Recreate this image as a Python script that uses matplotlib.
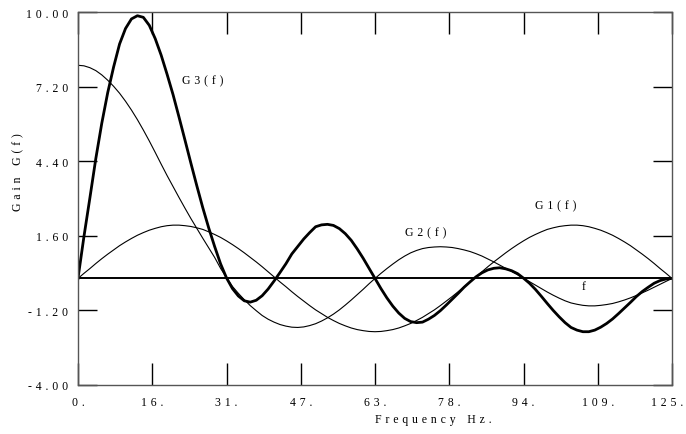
import numpy as np
import matplotlib
matplotlib.use("Agg")
import matplotlib.pyplot as plt
from matplotlib.transforms import ScaledTranslation

# frequency samples (Hz), values read every 1.25 Hz off the reference
freq = np.arange(0, 125.01, 1.25)

G1 = [0.00, 0.19, 0.37, 0.56, 0.74, 0.91, 1.07, 1.23, 1.37, 1.50,
      1.62, 1.72, 1.81, 1.88, 1.94, 1.98, 2.00, 2.00, 1.98, 1.95,
      1.90, 1.84, 1.75, 1.65, 1.54, 1.41, 1.27, 1.12, 0.96, 0.79,
      0.62, 0.44, 0.25, 0.06, -0.13, -0.31, -0.50, -0.68, -0.85, -1.02,
      -1.18, -1.32, -1.46, -1.58, -1.69, -1.78, -1.86, -1.92, -1.96, -1.99,
      -2.00, -1.99, -1.96, -1.92, -1.86, -1.78, -1.69, -1.58, -1.46, -1.32,
      -1.18, -1.02, -0.85, -0.68, -0.50, -0.31, -0.13, 0.06, 0.25, 0.44,
      0.62, 0.79, 0.96, 1.12, 1.27, 1.41, 1.54, 1.65, 1.75, 1.84,
      1.90, 1.95, 1.98, 2.00, 2.00, 1.98, 1.94, 1.88, 1.81, 1.72,
      1.62, 1.50, 1.37, 1.23, 1.07, 0.91, 0.74, 0.56, 0.37, 0.19,
      0.00]

G2 = [8.00, 7.98, 7.91, 7.80, 7.64, 7.44, 7.21, 6.95, 6.65, 6.32,
      5.96, 5.57, 5.16, 4.73, 4.29, 3.86, 3.45, 3.04, 2.64, 2.25,
      1.88, 1.51, 1.15, 0.79, 0.38, 0.03, -0.30, -0.56, -0.80, -1.02,
      -1.21, -1.39, -1.53, -1.64, -1.73, -1.79, -1.83, -1.84, -1.82, -1.77,
      -1.70, -1.60, -1.48, -1.34, -1.18, -1.00, -0.81, -0.61, -0.41, -0.20,
      0.00, 0.19, 0.37, 0.54, 0.70, 0.84, 0.96, 1.05, 1.12, 1.16,
      1.18, 1.19, 1.18, 1.16, 1.12, 1.07, 1.01, 0.93, 0.84, 0.73,
      0.62, 0.50, 0.38, 0.26, 0.14, 0.01, -0.12, -0.25, -0.38, -0.51,
      -0.63, -0.74, -0.84, -0.92, -0.97, -1.01, -1.03, -1.03, -1.01, -0.98,
      -0.94, -0.88, -0.81, -0.73, -0.64, -0.54, -0.44, -0.33, -0.22, -0.11,
      0.00]

G3 = [0.00, 1.57, 3.02, 4.50, 5.82, 6.97, 7.94, 8.80, 9.38, 9.74,
      9.86, 9.80, 9.50, 9.00, 8.38, 7.66, 6.90, 6.06, 5.20, 4.33,
      3.48, 2.66, 1.90, 1.20, 0.55, 0.02, -0.38, -0.66, -0.84, -0.89,
      -0.82, -0.65, -0.40, -0.10, 0.22, 0.55, 0.92, 1.20, 1.48, 1.72,
      1.94, 2.01, 2.03, 1.99, 1.87, 1.68, 1.43, 1.11, 0.76, 0.38,
      0.00, -0.38, -0.73, -1.04, -1.30, -1.50, -1.62, -1.66, -1.64, -1.53,
      -1.39, -1.21, -1.00, -0.78, -0.56, -0.33, -0.13, 0.06, 0.21, 0.32,
      0.38, 0.40, 0.36, 0.29, 0.18, 0.01, -0.18, -0.41, -0.67, -0.94,
      -1.20, -1.44, -1.66, -1.84, -1.94, -2.00, -2.00, -1.94, -1.83, -1.69,
      -1.52, -1.32, -1.11, -0.90, -0.68, -0.49, -0.33, -0.18, -0.08, -0.02,
      0.00]

xticks = [0, 15.625, 31.25, 46.875, 62.5, 78.125, 93.75, 109.375, 125]
xlabels = ["0.", "16.", "31.", "47.", "63.", "78.", "94.", "109.", "125."]
yticks = [-4.0, -1.2, 1.6, 4.4, 7.2, 10.0]
ylabels = ["-4.00", "-1.20", "1.60", "4.40", "7.20", "10.00"]

GAP = "\u2004"


def spaced(s):
    # the original labels are letter-spaced
    return GAP.join(s)


plt.rcParams["font.family"] = ["Liberation Serif", "DejaVu Serif"]

fig = plt.figure(figsize=(6.86, 4.35), dpi=100)
ax = fig.add_axes([78 / 686, 1 - 386 / 435, 594 / 686, 373 / 435])

ax.plot(freq, G1, color="black", lw=0.8)
ax.plot(freq, G2, color="black", lw=0.8)
ax.plot(freq, G3, color="black", lw=2.0)
ax.axhline(0, color="black", lw=1.4)

ax.set_xlim(0, 125)
ax.set_ylim(-4, 10)
ax.set_xticks(xticks)
ax.set_xticklabels([spaced(s) for s in xlabels])
ax.set_yticks(yticks)
ax.set_yticklabels([spaced(s) for s in ylabels])
ax.tick_params(axis="x", direction="in", length=16, width=1.0, pad=8,
               top=True, labelsize=8.5, colors="black")
ax.tick_params(axis="y", direction="in", length=14, width=1.0, pad=7,
               right=True, labelsize=8.5, colors="black")
for sp in ax.spines.values():
    sp.set_color("#555555")
    sp.set_linewidth(1.0)

# last x label sits against the right edge, nudge it in
last = ax.get_xticklabels()[-1]
last.set_transform(last.get_transform() + ScaledTranslation(-5 / 100, 0, fig.dpi_scale_trans))

# curve labels
ax.text(21.8, 7.43, spaced("G3(f)"), fontsize=8.5, ha="left", va="center")
ax.text(96.2, 2.73, spaced("G1(f)"), fontsize=8.5, ha="left", va="center")
ax.text(68.8, 1.75, spaced("G2(f)"), fontsize=8.5, ha="left", va="center")
ax.text(106.0, -0.30, "f", fontsize=8.5, ha="left", va="center")

fig.text(375 / 686, 1 - 420 / 435, spaced("Frequency") + GAP * 3 + spaced("Hz."),
         fontsize=8.5, ha="left", va="center")
fig.text(18 / 686, 1 - 172 / 435, spaced("Gain") + GAP * 3 + spaced("G(f)"),
         fontsize=8.5, rotation=90, ha="center", va="center")

fig.savefig("out.png", dpi=100)
